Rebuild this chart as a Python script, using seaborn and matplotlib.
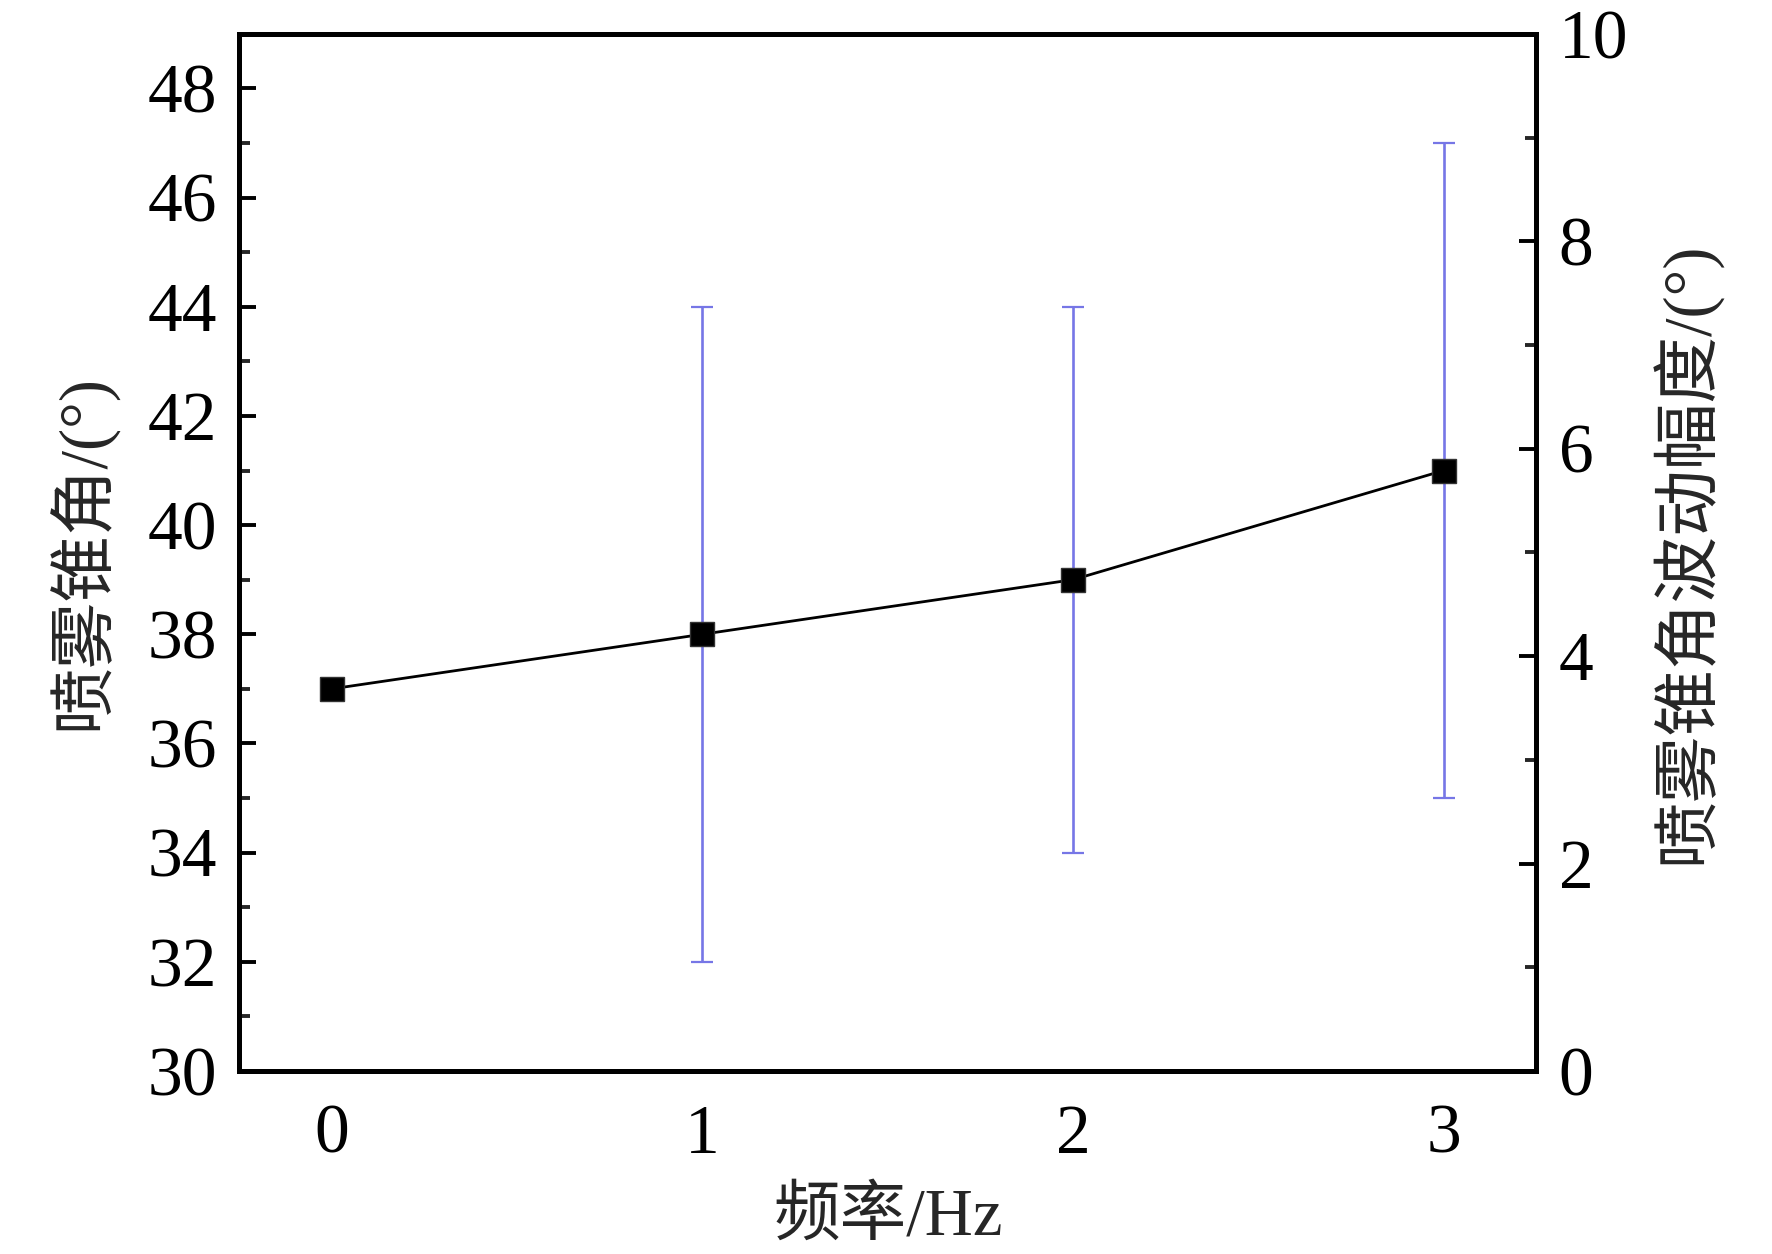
"""
Spray cone angle vs. frequency, with fluctuation amplitude as error bars.
"""

import matplotlib
matplotlib.use("Agg")
import matplotlib.pyplot as plt
from matplotlib.ticker import MultipleLocator
import seaborn as sns
import pandas as pd

# data
freq = [0, 1, 2, 3]
cone_angle = [37, 38, 39, 41]
err_low = [0, 6, 5, 6]
err_high = [0, 6, 5, 6]

x_label = "频率/Hz"
y_label = "喷雾锥角/(°)"
y2_label = "喷雾锥角波动幅度/(°)"

sns.set_style("white")
plt.rcParams['font.family'] = ['Liberation Serif', 'Noto Sans CJK SC']

df = pd.DataFrame({"freq": freq, "angle": cone_angle})

fig, ax = plt.subplots(figsize=(17.72, 12.54), dpi=100)
fig.subplots_adjust(left=0.135, right=0.867, top=0.973, bottom=0.146)

# error bars (fluctuation amplitude)
ax.errorbar(freq, cone_angle, yerr=[err_low, err_high], fmt='none',
            ecolor='#7676e6', elinewidth=1.9, capsize=8, capthick=1.6, zorder=2)

# mean cone angle
sns.lineplot(data=df, x="freq", y="angle", ax=ax, color='black', linewidth=2.0,
             marker='s', markersize=17, markeredgecolor='#333333',
             markeredgewidth=1.0, zorder=3)

ax.set_xlim(-0.25, 3.25)
ax.set_ylim(30, 49)
ax.set_xticks(freq)
ax.yaxis.set_major_locator(MultipleLocator(2))
ax.yaxis.set_minor_locator(MultipleLocator(1))
ax.set_yticks(range(30, 49, 2))

ax.set_xlabel(x_label, fontsize=48, labelpad=14)
ax.set_ylabel(y_label, fontsize=48, labelpad=22)

for side in ax.spines.values():
    side.set_linewidth(3.6)
    side.set_color('black')

ax.tick_params(axis='both', which='major', direction='in', length=12, width=2.8,
               labelsize=50, colors='black')
ax.tick_params(axis='y', which='major', pad=16)
ax.tick_params(axis='x', which='major', pad=24)
ax.tick_params(axis='y', which='minor', direction='in', length=8, width=2.8, left=True)
ax.tick_params(axis='x', which='both', top=False)
ax.tick_params(axis='y', which='both', right=False)

# right axis
ax2 = ax.twinx()
ax2.set_ylim(0, 10)
ax2.yaxis.set_major_locator(MultipleLocator(2))
ax2.yaxis.set_minor_locator(MultipleLocator(1))
ax2.set_ylabel(y2_label, fontsize=48, labelpad=16)
ax2.tick_params(axis='y', which='major', direction='in', length=12, width=2.8,
                labelsize=50, colors='black', pad=16)
ax2.tick_params(axis='y', which='minor', direction='in', length=8, width=2.8)
for side in ax2.spines.values():
    side.set_linewidth(3.6)
    side.set_color('black')

fig.savefig("out.png", dpi=100)
